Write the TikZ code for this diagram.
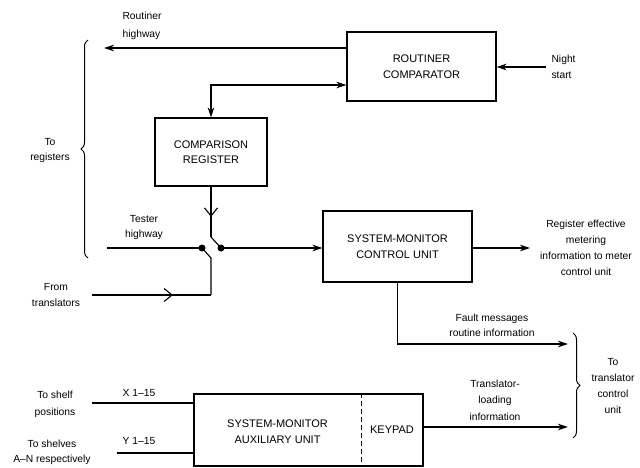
\documentclass[tikz,border=0pt]{standalone}
\usepackage{fontspec}
\setmainfont{Liberation Sans}
\usetikzlibrary{arrows.meta,decorations.pathreplacing,decorations.markings,calc}
\begin{document}
\begin{tikzpicture}[x=1pt,y=-1pt,line width=1.1pt,
  btext/.style={inner sep=0pt,align=center,font=\fontsize{11}{15.5}\selectfont},
  box/.style={draw,btext},
  lbl/.style={inner sep=0pt,align=center,font=\fontsize{10.3}{15.5}\selectfont},
  arr/.style={-{Stealth[length=10pt,width=6.5pt]}},
  barr/.style={{Stealth[length=10pt,width=6.5pt]}-{Stealth[length=10pt,width=6.5pt]}},
  chev/.style={decoration={markings,mark=at position #1 with {\arrow{Straight Barb[length=8pt,width=13pt,line width=1.1pt]}}},postaction={decorate}},
  brc/.style={decorate,decoration={brace,amplitude=7pt}},
  dot/.style={circle,fill,inner sep=0pt,minimum size=7pt}
]
\useasboundingbox (0,0) rectangle (640,468);
% boxes
\node[box,minimum width=149pt,minimum height=69pt] (rc) at (421.5,66.5) {ROUTINER\\COMPARATOR};
\node[box,minimum width=112pt,minimum height=68pt] (cr) at (211,152) {COMPARISON\\REGISTER};
\node[box,minimum width=149pt,minimum height=71pt] (smc) at (397.5,246.5) {SYSTEM-MONITOR\\CONTROL UNIT};
\node[draw,minimum width=229pt,minimum height=72pt,inner sep=0pt] (aux) at (308.5,430) {};
\node[btext] (auxt) at (277.5,431.5) {SYSTEM-MONITOR\\AUXILIARY UNIT};
\node[btext] (kp) at (392,430) {KEYPAD};
\coordinate (kd) at (361,0);
\draw[dashed,line width=1pt,dash pattern=on 5pt off 3pt] (aux.north -| kd) -- (aux.south -| kd);
% coordinates
\coordinate (hw) at (104,48);
\coordinate (ns) at (546,67);
\coordinate (cmp) at (211,85);
\coordinate (th) at (107,248);
\coordinate (sw) at (211,237);
\coordinate (sl) at (211,258);
\coordinate (ftc) at (211,295);
\coordinate (ft) at (92,295);
\coordinate (rem) at (530,248);
\coordinate (fc) at (397.5,344);
\coordinate (fe) at (568,344);
\coordinate (tle) at (568,427);
\coordinate (xs) at (92,403);
\coordinate (ys) at (117,453);
\node[dot] (dl) at (202,248) {};
\node[dot] (dr) at (221,248) {};
% connectors
\draw[arr] (rc.west |- hw) -- (hw);
\draw[arr] (ns) -- (rc.east |- ns);
\draw[barr] (rc.west |- cmp) -- (cmp) -- (cr.north);
\draw (th) -- (dl.center);
\draw[arr] (dr.center) -- (smc.west |- dr);
\draw[chev=0.6] (cr.south) -- (sw);
\draw (sw) -- (dr.center);
\draw (dl.center) -- (sl) -- (ftc);
\draw[chev=0.68] (ft) -- (ftc);
\draw[arr] (smc.east |- rem) -- (rem);
\draw[arr] (smc.south) -- (fc) -- (fe);
\draw[arr] (aux.east |- tle) -- (tle);
\draw (xs) -- (aux.west |- xs);
\draw (ys) -- (aux.west |- ys);
% braces
\draw[brc,line width=1pt] (88,258) -- (88,40);
\draw[brc,line width=1pt] (573,333) -- (573,438);
% labels
\node[lbl,align=left,anchor=west,font=\fontsize{10.3}{18}\selectfont] at (122,26) {Routiner\\highway};
\node[lbl,align=left,anchor=west] at (551,67) {Night\\start};
\node[lbl] at (50,150.5) {To\\registers};
\node[lbl] at (144,227.5) {Tester\\highway};
\node[lbl] at (56,295) {From\\translators};
\node[lbl,font=\fontsize{10.3}{16}\selectfont] at (586,247.5) {Register effective\\metering\\information to meter\\control unit};
\node[lbl] at (492,325.5) {Fault messages\\routine information};
\node[lbl,font=\fontsize{10.3}{16}\selectfont] at (613,386) {To\\translator\\control\\unit};
\node[lbl,font=\fontsize{10.3}{16.5}\selectfont] at (495,400) {Translator-\\loading\\information};
\node[lbl] at (139,393) {X 1--15};
\node[lbl] at (139,441) {Y 1--15};
\node[lbl,font=\fontsize{10.3}{17}\selectfont] at (55,404.5) {To shelf\\positions};
\node[lbl] at (52,452.5) {To shelves\\A--N respectively};
\end{tikzpicture}
\end{document}
